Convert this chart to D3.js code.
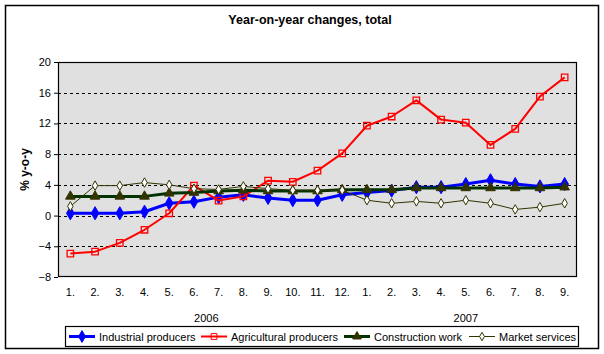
<!DOCTYPE html>
<html>
<head>
<meta charset="utf-8">
<script src="https://cdn.jsdelivr.net/npm/d3@7"></script>
<style>
  body { margin: 0; background: #fff; }
  svg { display: block; font-family: "Liberation Sans", Arial, sans-serif; }
</style>
</head>
<body>
<div id="chart"></div>
<script>
// Month labels along the x axis (2006: 1-12, 2007: 1-9).
const months = ["1.", "2.", "3.", "4.", "5.", "6.", "7.", "8.", "9.", "10.", "11.", "12.",
                "1.", "2.", "3.", "4.", "5.", "6.", "7.", "8.", "9."];
const years = [{ label: "2006", from: 0, to: 11 }, { label: "2007", from: 12, to: 20 }];
const yTicks = [-8, -4, 0, 4, 8, 12, 16, 20];

// Series values, % y-o-y.
const industrial = [0.3, 0.3, 0.3, 0.5, 1.6, 1.8, 2.4, 2.7, 2.3, 2.0, 2.0, 2.7,
                    3.0, 3.25, 3.7, 3.7, 4.1, 4.6, 4.1, 3.8, 4.1];
const agricultural = [-4.95, -4.7, -3.55, -1.85, 0.3, 3.9, 1.95, 2.5, 4.55, 4.4, 5.85, 8.1,
                      11.7, 12.9, 15.0, 12.5, 12.1, 9.2, 11.3, 15.5, 18.0];
const construction = [2.5, 2.5, 2.5, 2.5, 2.9, 3.0, 3.2, 3.3, 3.2, 3.2, 3.2, 3.35,
                      3.35, 3.35, 3.6, 3.6, 3.6, 3.6, 3.6, 3.6, 3.7];
const market = [1.2, 3.9, 3.9, 4.3, 4.0, 3.5, 3.4, 3.8, 3.5, 3.3, 3.3, 3.3,
                2.0, 1.6, 1.85, 1.6, 2.0, 1.6, 0.8, 1.1, 1.6];

const series = [
  { name: "Industrial producers", values: industrial, line: "#0000ff", width: 3, marker: "diamond", mFill: "#0000ff", mStroke: "#0000ff", size: 50 },
  { name: "Agricultural producers", values: agricultural, line: "#ff0000", width: 2, marker: "square", mFill: "none", mStroke: "#ff0000", size: 42 },
  { name: "Construction work", values: construction, line: "#003300", width: 3, marker: "triangle", mFill: "#333300", mStroke: "#333300", size: 40 },
  { name: "Market services", values: market, line: "#333300", width: 1, marker: "diamond", mFill: "#ffffff", mStroke: "#333300", size: 26 }
];

const W = 604, H = 354;
const plot = { left: 58, right: 577, top: 62, bottom: 277 };

const svg = d3.select("#chart").append("svg")
  .attr("width", W)
  .attr("height", H);

// Outer chart border.
svg.append("rect")
  .attr("x", 5.5).attr("y", 5.5)
  .attr("width", 593).attr("height", 343)
  .attr("fill", "#fff")
  .attr("stroke", "#000")
  .attr("stroke-width", 1.5);

// Title.
svg.append("text")
  .attr("x", 310)
  .attr("y", 24)
  .attr("text-anchor", "middle")
  .style("font-size", "12.5px")
  .style("font-weight", "bold")
  .text("Year-on-year changes, total");

// Scales.
const x = d3.scaleBand()
  .domain(d3.range(months.length))
  .range([plot.left, plot.right])
  .padding(0);

const y = d3.scaleLinear()
  .domain([-8, 20])
  .range([plot.bottom, plot.top]);

const cx = i => x(i) + x.bandwidth() / 2;

// Plot background.
svg.append("rect")
  .attr("x", plot.left).attr("y", plot.top)
  .attr("width", plot.right - plot.left)
  .attr("height", plot.bottom - plot.top)
  .attr("fill", "#e0e0e0");

// Dashed gridlines.
svg.append("g")
  .selectAll("line")
  .data(yTicks.filter(t => t > -8 && t < 20))
  .enter().append("line")
  .attr("x1", plot.left).attr("x2", plot.right)
  .attr("y1", d => Math.round(y(d)) + 0.5)
  .attr("y2", d => Math.round(y(d)) + 0.5)
  .attr("stroke", "#000")
  .attr("stroke-dasharray", "3,3");

// Plot border.
svg.append("rect")
  .attr("x", plot.left + 0.5).attr("y", plot.top + 0.5)
  .attr("width", plot.right - plot.left - 1)
  .attr("height", plot.bottom - plot.top - 1)
  .attr("fill", "none")
  .attr("stroke", "#000")
  .attr("stroke-width", 1.2);

// Y axis.
const yAxis = svg.append("g")
  .attr("transform", `translate(${plot.left},0)`)
  .call(d3.axisLeft(y).tickValues(yTicks).tickSize(4).tickPadding(3));
yAxis.select(".domain").remove();
yAxis.selectAll("line").attr("stroke", "#000");
yAxis.selectAll("text")
  .style("font-size", "11px")
  .style("font-family", "'Liberation Sans', Arial, sans-serif")
  .attr("fill", "#000");

// X axis (labels only).
const xAxis = svg.append("g")
  .attr("transform", `translate(0,${plot.bottom})`)
  .call(d3.axisBottom(x).tickFormat(i => months[i]).tickSize(0).tickPadding(11));
xAxis.select(".domain").remove();
xAxis.selectAll("text")
  .style("font-size", "11px")
  .style("font-family", "'Liberation Sans', Arial, sans-serif")
  .attr("fill", "#000");

// Year labels.
svg.append("g")
  .selectAll("text")
  .data(years)
  .enter().append("text")
  .attr("x", d => (cx(d.from) + cx(d.to)) / 2)
  .attr("y", 322)
  .attr("text-anchor", "middle")
  .style("font-size", "11px")
  .text(d => d.label);

// Y axis title.
svg.append("text")
  .attr("transform", `translate(29,${(plot.top + plot.bottom) / 2}) rotate(-90)`)
  .attr("text-anchor", "middle")
  .style("font-size", "12px")
  .style("font-weight", "bold")
  .text("% y-o-y");

const symbolType = { diamond: d3.symbolDiamond, square: d3.symbolSquare, triangle: d3.symbolTriangle };

// Lines and markers.
const line = d3.line().x((d, i) => cx(i)).y(d => y(d));

series.forEach(s => {
  const g = svg.append("g");
  g.append("path")
    .datum(s.values)
    .attr("d", line)
    .attr("fill", "none")
    .attr("stroke", s.line)
    .attr("stroke-width", s.width)
    .attr("stroke-linejoin", "round");
  g.selectAll("path.m")
    .data(s.values)
    .enter().append("path")
    .attr("class", "m")
    .attr("transform", (d, i) => `translate(${cx(i)},${y(d)})`)
    .attr("d", d3.symbol().type(symbolType[s.marker]).size(s.size))
    .attr("fill", s.mFill)
    .attr("stroke", s.mStroke)
    .attr("stroke-width", s.marker === "square" ? 1.3 : 1);
});

// Legend.
const legend = svg.append("g");
legend.append("rect")
  .attr("x", 65.5).attr("y", 326.5)
  .attr("width", 513).attr("height", 20)
  .attr("fill", "#fff")
  .attr("stroke", "#000")
  .attr("stroke-width", 1.2);

const legendX = [69, 201, 344, 469];
series.forEach((s, i) => {
  const g = legend.append("g").attr("transform", `translate(${legendX[i]},336.5)`);
  g.append("line")
    .attr("x1", 0).attr("x2", 26)
    .attr("stroke", s.line)
    .attr("stroke-width", s.width);
  g.append("path")
    .attr("transform", "translate(13,0)")
    .attr("d", d3.symbol().type(symbolType[s.marker]).size(s.size * 0.8))
    .attr("fill", s.mFill)
    .attr("stroke", s.mStroke);
  g.append("text")
    .attr("x", 30)
    .attr("y", 4)
    .style("font-size", "11px")
    .text(s.name);
});
</script>
</body>
</html>
